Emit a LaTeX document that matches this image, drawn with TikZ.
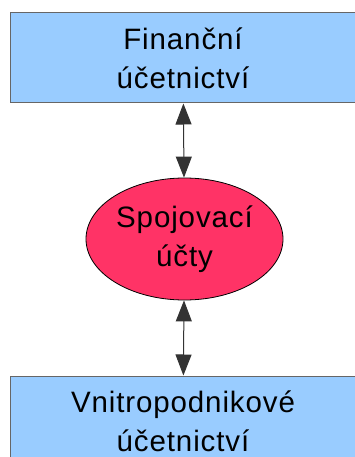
\documentclass[tikz,border=0pt]{standalone}
\usepackage{fontspec}
\setmainfont[LetterSpace=3]{Liberation Sans}
\usetikzlibrary{arrows.meta, shapes.geometric}
\definecolor{boxblue}{HTML}{99CCFF}
\definecolor{ovalred}{HTML}{FF3366}
\tikzset{
  ucet/.style={draw=black!60, fill=boxblue, line width=1pt, minimum width=346pt,
    minimum height=90pt, align=center, inner sep=0pt},
  spoj/.style={ellipse, draw=black, fill=ovalred, line width=0.8pt, minimum width=197pt,
    minimum height=122pt, align=center, inner sep=0pt},
  vazba/.style={{Triangle[length=21pt,width=16pt]}-{Triangle[length=21pt,width=16pt]}, line width=1pt, draw=black!80}
}
\begin{document}
\begin{tikzpicture}[x=1pt, y=-1pt, font=\fontsize{29.5}{39}\selectfont]
         \useasboundingbox (0,0) rectangle (355,457);
         \clip (0,0) rectangle (355,457);
         %nodes
         \node[ucet] at (183,58) (fin) {Finanční\\účetnictví};
         \node[spoj] at (184.5,239) (spojucty) {Spojovací\\účty};
         \node[ucet] at (183,421) (vnitro) {Vnitropodnikové\\účetnictví};
         % arrows between nodes
         \draw[vazba] (fin) -- (spojucty);
         \draw[vazba] (spojucty) -- (vnitro);
        \end{tikzpicture}
\end{document}
